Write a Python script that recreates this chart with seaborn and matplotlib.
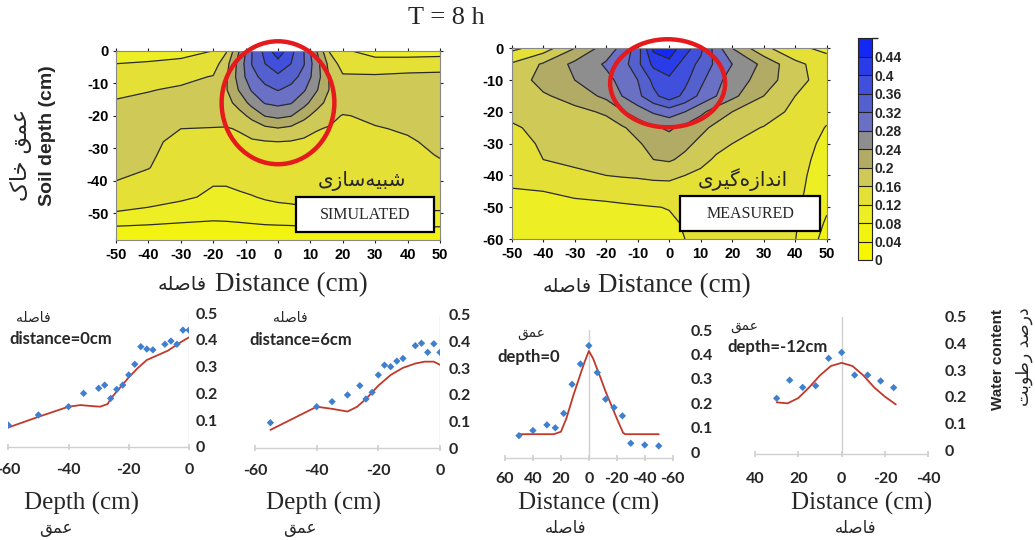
import numpy as np
import matplotlib
matplotlib.use("Agg")
import matplotlib.pyplot as plt
import seaborn as sns
from matplotlib.colors import ListedColormap, BoundaryNorm
from matplotlib.patches import Ellipse, Rectangle

# ---------------- data ----------------
title_text = "T = 8 h"

# simulated field grid
sim_x = [-50, -40, -30, -20, -16, -12, -8, -4, 0, 4, 8, 12, 16, 20, 30, 40, 50]
sim_depth = [0, -4, -8, -12, -16, -20, -24, -28, -32, -36, -40, -45, -50, -55, -60]
simulated_wc = [
    [0.100, 0.100, 0.105, 0.120, 0.155, 0.240, 0.320, 0.373, 0.430, 0.373, 0.320, 0.240, 0.155, 0.125, 0.105, 0.100, 0.100],
    [0.120, 0.124, 0.130, 0.140, 0.185, 0.255, 0.322, 0.360, 0.383, 0.360, 0.322, 0.255, 0.185, 0.142, 0.135, 0.140, 0.145],
    [0.137, 0.142, 0.150, 0.162, 0.195, 0.257, 0.308, 0.334, 0.353, 0.334, 0.308, 0.257, 0.195, 0.165, 0.165, 0.168, 0.168],
    [0.152, 0.158, 0.165, 0.177, 0.197, 0.243, 0.285, 0.310, 0.322, 0.310, 0.285, 0.243, 0.197, 0.178, 0.174, 0.176, 0.175],
    [0.163, 0.169, 0.174, 0.180, 0.185, 0.216, 0.254, 0.283, 0.290, 0.283, 0.254, 0.216, 0.185, 0.180, 0.172, 0.174, 0.175],
    [0.170, 0.174, 0.176, 0.178, 0.178, 0.185, 0.212, 0.242, 0.250, 0.242, 0.212, 0.185, 0.170, 0.158, 0.166, 0.170, 0.172],
    [0.170, 0.169, 0.160, 0.158, 0.157, 0.163, 0.175, 0.190, 0.197, 0.190, 0.175, 0.162, 0.157, 0.152, 0.158, 0.163, 0.169],
    [0.169, 0.166, 0.153, 0.150, 0.149, 0.151, 0.156, 0.158, 0.160, 0.158, 0.154, 0.151, 0.149, 0.147, 0.150, 0.157, 0.166],
    [0.167, 0.164, 0.149, 0.147, 0.147, 0.148, 0.149, 0.150, 0.152, 0.150, 0.149, 0.148, 0.147, 0.146, 0.147, 0.151, 0.162],
    [0.164, 0.161, 0.144, 0.141, 0.141, 0.142, 0.143, 0.144, 0.145, 0.144, 0.143, 0.142, 0.141, 0.142, 0.143, 0.146, 0.155],
    [0.160, 0.150, 0.132, 0.122, 0.122, 0.125, 0.128, 0.131, 0.134, 0.135, 0.137, 0.138, 0.138, 0.138, 0.139, 0.141, 0.144],
    [0.136, 0.130, 0.124, 0.116, 0.116, 0.117, 0.119, 0.122, 0.124, 0.125, 0.126, 0.127, 0.127, 0.127, 0.128, 0.129, 0.130],
    [0.118, 0.114, 0.108, 0.104, 0.104, 0.105, 0.107, 0.110, 0.112, 0.113, 0.115, 0.116, 0.117, 0.118, 0.118, 0.118, 0.118],
    [0.070, 0.066, 0.060, 0.052, 0.055, 0.060, 0.064, 0.067, 0.068, 0.069, 0.071, 0.072, 0.072, 0.072, 0.072, 0.072, 0.072],
    [0.050, 0.048, 0.046, 0.044, 0.045, 0.046, 0.047, 0.048, 0.050, 0.050, 0.050, 0.050, 0.050, 0.050, 0.050, 0.050, 0.050],
]

# measured field grid
meas_x = [-50, -40, -30, -20, -15, -10, -5, 0, 5, 10, 15, 20, 30, 40, 50]
meas_depth = [0, -5, -10, -15, -20, -25, -30, -35, -40, -45, -50, -55, -60]
measured_wc = [
    [0.110, 0.140, 0.200, 0.260, 0.290, 0.340, 0.450, 0.460, 0.420, 0.370, 0.300, 0.240, 0.170, 0.130, 0.110],
    [0.165, 0.205, 0.250, 0.285, 0.300, 0.350, 0.410, 0.430, 0.380, 0.350, 0.310, 0.280, 0.230, 0.170, 0.140],
    [0.175, 0.215, 0.240, 0.270, 0.290, 0.320, 0.370, 0.390, 0.370, 0.330, 0.290, 0.265, 0.220, 0.175, 0.140],
    [0.175, 0.195, 0.215, 0.250, 0.280, 0.310, 0.350, 0.380, 0.350, 0.310, 0.280, 0.250, 0.200, 0.160, 0.135],
    [0.170, 0.178, 0.190, 0.205, 0.235, 0.260, 0.285, 0.300, 0.280, 0.250, 0.220, 0.200, 0.180, 0.150, 0.130],
    [0.155, 0.170, 0.175, 0.185, 0.195, 0.215, 0.235, 0.245, 0.230, 0.210, 0.190, 0.175, 0.158, 0.145, 0.118],
    [0.145, 0.165, 0.170, 0.175, 0.180, 0.195, 0.215, 0.225, 0.210, 0.190, 0.170, 0.160, 0.150, 0.140, 0.110],
    [0.135, 0.160, 0.165, 0.170, 0.175, 0.180, 0.200, 0.205, 0.190, 0.170, 0.155, 0.150, 0.145, 0.135, 0.105],
    [0.128, 0.140, 0.155, 0.160, 0.163, 0.165, 0.168, 0.168, 0.160, 0.152, 0.148, 0.145, 0.140, 0.132, 0.100],
    [0.118, 0.120, 0.128, 0.132, 0.135, 0.138, 0.142, 0.145, 0.145, 0.142, 0.140, 0.138, 0.135, 0.130, 0.095],
    [0.105, 0.105, 0.110, 0.113, 0.115, 0.117, 0.119, 0.121, 0.125, 0.128, 0.130, 0.130, 0.130, 0.127, 0.085],
    [0.095, 0.095, 0.098, 0.102, 0.105, 0.108, 0.112, 0.116, 0.122, 0.126, 0.128, 0.128, 0.128, 0.124, 0.075],
    [0.085, 0.085, 0.088, 0.092, 0.095, 0.100, 0.105, 0.112, 0.120, 0.125, 0.127, 0.127, 0.126, 0.121, 0.065],
]

levels = [0, 0.04, 0.08, 0.12, 0.16, 0.20, 0.24, 0.28, 0.32, 0.36, 0.40, 0.44, 0.48]
cbar_ticks = [0, 0.04, 0.08, 0.12, 0.16, 0.20, 0.24, 0.28, 0.32, 0.36, 0.40, 0.44]
cbar_labels = ["0", "0.04", "0.08", "0.12", "0.16", "0.2", "0.24", "0.28", "0.32", "0.36", "0.4", "0.44"]
band_colors = ["#f6f600", "#f3f312", "#eeee24", "#e4e036", "#cfc957", "#b2ab66",
               "#8e8e8e", "#6a70c4", "#5560cf", "#4050dc", "#2a3ce8", "#1428f5"]

contour_xticks = [-50, -40, -30, -20, -10, 0, 10, 20, 30, 40, 50]
sim_yticks = [0, -10, -20, -30, -40, -50]
meas_yticks = [0, -10, -20, -30, -40, -50, -60]

# bottom panel 1 : distance = 0 cm
p1_meas_depth = [-60, -50, -40, -35, -30, -28, -26, -24, -22, -20, -18, -16, -14, -12, -8, -6, -4, -2, 0]
p1_meas_wc = [0.081, 0.119, 0.150, 0.200, 0.219, 0.231, 0.181, 0.215, 0.231, 0.269, 0.309, 0.375,
              0.366, 0.363, 0.384, 0.396, 0.384, 0.437, 0.437]
p1_sim_depth = [-60, -50, -40, -36, -32, -29.5, -27, -26, -23, -20, -17, -14, -10, -7, -3, 0]
p1_sim_wc = [0.072, 0.112, 0.150, 0.156, 0.152, 0.150, 0.160, 0.180, 0.220, 0.260, 0.295, 0.325,
             0.345, 0.360, 0.390, 0.410]

# bottom panel 2 : distance = 6 cm
p2_meas_depth = [-55, -40, -35, -30, -26, -24, -22, -20, -18, -16, -14, -12, -8, -6, -4, -2, 0]
p2_meas_wc = [0.096, 0.156, 0.175, 0.200, 0.235, 0.185, 0.210, 0.275, 0.312, 0.306, 0.327, 0.337,
              0.385, 0.394, 0.360, 0.392, 0.360]
p2_sim_depth = [-55, -40, -35, -30, -27, -24, -20, -16, -12, -8, -5, -2, 0]
p2_sim_wc = [0.069, 0.156, 0.148, 0.138, 0.155, 0.185, 0.235, 0.275, 0.302, 0.318, 0.325, 0.325, 0.313]

# bottom panel 3 : depth = 0
p3_meas_dist = [50, 40, 30, 24, 18, 12, 6, 0, -6, -12, -18, -24, -30, -40, -50]
p3_meas_wc = [0.068, 0.089, 0.112, 0.100, 0.159, 0.278, 0.361, 0.436, 0.326, 0.217, 0.183, 0.149,
              0.037, 0.030, 0.026]
p3_sim_dist = [50, 25, 20, 16, 11, 6, 3, 0, -3, -8, -12, -17, -21, -24.5, -26, -50]
p3_sim_wc = [0.074, 0.074, 0.084, 0.140, 0.234, 0.320, 0.370, 0.414, 0.384, 0.310, 0.248, 0.180,
             0.125, 0.080, 0.074, 0.074]

# bottom panel 4 : depth = -12 cm
p4_meas_dist = [30, 24, 18, 12, 6, 0, -6, -12, -18, -24]
p4_meas_wc = [0.194, 0.262, 0.235, 0.241, 0.344, 0.366, 0.281, 0.281, 0.259, 0.234]
p4_sim_dist = [30, 25, 20, 15, 10, 5, 0, -5, -10, -15, -20, -25]
p4_sim_wc = [0.179, 0.175, 0.195, 0.235, 0.280, 0.315, 0.327, 0.315, 0.280, 0.235, 0.200, 0.171]

wc_ticks = [0, 0.1, 0.2, 0.3, 0.4, 0.5]
wc_labels = ["0", "0.1", "0.2", "0.3", "0.4", "0.5"]

# ---------------- Persian shaping (visual order, presentation forms) ----------------
FORMS = {
    "\u0627": ("\uFE8D", "\uFE8E", None, None),
    "\u0628": ("\uFE8F", "\uFE90", "\uFE91", "\uFE92"),
    "\u062A": ("\uFE95", "\uFE96", "\uFE97", "\uFE98"),
    "\u062E": ("\uFEA5", "\uFEA6", "\uFEA7", "\uFEA8"),
    "\u062F": ("\uFEA9", "\uFEAA", None, None),
    "\u0631": ("\uFEAD", "\uFEAE", None, None),
    "\u0632": ("\uFEAF", "\uFEB0", None, None),
    "\u0633": ("\uFEB1", "\uFEB2", "\uFEB3", "\uFEB4"),
    "\u0634": ("\uFEB5", "\uFEB6", "\uFEB7", "\uFEB8"),
    "\u0635": ("\uFEB9", "\uFEBA", "\uFEBB", "\uFEBC"),
    "\u0637": ("\uFEC1", "\uFEC2", "\uFEC3", "\uFEC4"),
    "\u0639": ("\uFEC9", "\uFECA", "\uFECB", "\uFECC"),
    "\u0641": ("\uFED1", "\uFED2", "\uFED3", "\uFED4"),
    "\u0642": ("\uFED5", "\uFED6", "\uFED7", "\uFED8"),
    "\u0644": ("\uFEDD", "\uFEDE", "\uFEDF", "\uFEE0"),
    "\u0645": ("\uFEE1", "\uFEE2", "\uFEE3", "\uFEE4"),
    "\u0646": ("\uFEE5", "\uFEE6", "\uFEE7", "\uFEE8"),
    "\u0647": ("\uFEE9", "\uFEEA", "\uFEEB", "\uFEEC"),
    "\u0648": ("\uFEED", "\uFEEE", None, None),
    "\u06A9": ("\uFB8E", "\uFB8F", "\uFB90", "\uFB91"),
    "\u06AF": ("\uFB92", "\uFB93", "\uFB94", "\uFB95"),
    "\u06CC": ("\uFBFC", "\uFBFD", "\uFBFE", "\uFBFF"),
}


def fa(s):
    out = []
    n = len(s)
    for i, c in enumerate(s):
        if c not in FORMS:
            if c == "\u200c":
                continue
            out.append(c)
            continue
        iso, fin, ini, med = FORMS[c]
        prev = s[i - 1] if i > 0 else None
        nxt = s[i + 1] if i < n - 1 else None
        jp = prev in FORMS and FORMS[prev][2] is not None
        jn = ini is not None and nxt in FORMS
        if jp and jn:
            g = med
        elif jp:
            g = fin
        elif jn:
            g = ini
        else:
            g = iso
        out.append(g)
    return "".join(reversed(out))


FA_DIST = "\u0641\u0627\u0635\u0644\u0647"            # فاصله
FA_DEPTH = "\u0639\u0645\u0642"                          # عمق
FA_SOIL_DEPTH = "\u0639\u0645\u0642 \u062E\u0627\u06A9"  # عمق خاک
FA_SIM = "\u0634\u0628\u06CC\u0647\u200C\u0633\u0627\u0632\u06CC"          # شبیه‌سازی
FA_MEAS = "\u0627\u0646\u062F\u0627\u0632\u0647\u200C\u06AF\u06CC\u0631\u06CC"  # اندازه‌گیری
FA_WC = "\u062F\u0631\u0635\u062F \u0631\u0637\u0648\u0628\u062A"        # درصد رطوبت

# ---------------- figure ----------------
sns.set_theme(style="white")
plt.rcParams["font.family"] = ["Liberation Sans", "DejaVu Sans"]
plt.rcParams["axes.unicode_minus"] = False

W, H = 1035, 540
fig = plt.figure(figsize=(W / 100, H / 100), dpi=100)
fig.patch.set_facecolor("white")


def add_ax(l, r, t, b):
    return fig.add_axes([l / W, 1 - b / H, (r - l) / W, (b - t) / H])


cmap = ListedColormap(band_colors)
norm = BoundaryNorm(levels, cmap.N)
FA_FONT = ["DejaVu Sans"]
SERIF = ["Liberation Serif", "DejaVu Serif"]
CAL = ["Lato", "DejaVu Sans"]


def contour_panel(ax, xs, ds, Z, ylow, yticks, label, fa_label, box_x0, ell):
    GX, GD = np.meshgrid(np.array(xs), np.array(ds))
    Z = np.array(Z)
    ax.contourf(GX, GD, Z, levels=levels, cmap=cmap, norm=norm)
    ax.contour(GX, GD, Z, levels=levels[1:-1], colors="#2b2b2b", linewidths=0.9)
    ax.set_xlim(-50, 50)
    ax.set_ylim(ylow, 0)
    ax.set_xticks(contour_xticks)
    ax.set_xticklabels([str(v) for v in contour_xticks])
    ax.set_yticks(yticks)
    ax.set_yticklabels([str(v) for v in yticks])
    ax.tick_params(axis="both", which="both", direction="inout", length=5, width=0.8,
                   top=True, right=True, bottom=True, left=True, labelsize=10.5, pad=3, colors="#222222")
    for t in ax.get_xticklabels() + ax.get_yticklabels():
        t.set_fontweight("bold")
        t.set_color("black")
    for s in ax.spines.values():
        s.set_visible(True)
        s.set_color("#888888")
        s.set_linewidth(0.8)
    ax.grid(False)
    # label box
    ax.add_patch(Rectangle((box_x0, 0.04), 0.98 - box_x0, 0.185, transform=ax.transAxes,
                           facecolor="white", edgecolor="black", linewidth=1.6, zorder=5))
    ax.text((box_x0 + 0.98) / 2, 0.13, label, transform=ax.transAxes, ha="center", va="center",
            fontsize=11.5, family=SERIF, zorder=6)
    ax.text(fa_label[1], fa_label[2], fa(fa_label[0]), transform=ax.transAxes, ha="center",
            va="center", fontsize=14.5, family=FA_FONT, zorder=6)
    ax.add_patch(Ellipse((ell[0], ell[1]), ell[2], ell[3], fill=False, edgecolor="#e41a1c",
                         linewidth=3.2, clip_on=False, zorder=7))


ax_sim = add_ax(116, 440, 50.7, 240)
contour_panel(ax_sim, sim_x, sim_depth, simulated_wc, -58.2, sim_yticks, "SIMULATED",
              (FA_SIM, 0.76, 0.31), 0.555, (0, -16, 34.8, 37.8))

ax_meas = add_ax(511.7, 826.7, 48.3, 239)
contour_panel(ax_meas, meas_x, meas_depth, measured_wc, -60, meas_yticks, "MEASURED",
              (FA_MEAS, 0.735, 0.31), 0.535, (-0.5, -11, 36.5, 27.7))

# colorbar
cax = add_ax(858, 871.7, 38.3, 260)
sm = matplotlib.cm.ScalarMappable(norm=norm, cmap=cmap)
cb = fig.colorbar(sm, cax=cax, boundaries=levels, ticks=cbar_ticks, drawedges=True)
cb.ax.set_yticklabels(cbar_labels)
cb.outline.set_edgecolor("#222222")
cb.outline.set_linewidth(0.8)
cb.dividers.set_color("#222222")
cb.dividers.set_linewidth(0.8)
cb.ax.tick_params(length=0, pad=2, labelsize=10)
for t in cb.ax.get_yticklabels():
    t.set_fontweight("bold")

# title + top labels
fig.text(446 / W, 1 - 18 / H, title_text, ha="center", va="center", fontsize=19, family=SERIF)
fig.text(47 / W, 1 - 136 / H, "Soil depth (cm)", rotation=90, ha="center", va="center",
         fontsize=14, fontweight="bold")
fig.text(21 / W, 1 - 155 / H, fa(FA_SOIL_DEPTH), rotation=90, ha="center", va="center",
         fontsize=16, family=FA_FONT)
for (fa_x, en_x, yy) in [(207, 215, 285), (592, 598, 286)]:
    fig.text(fa_x / W, 1 - yy / H, fa(FA_DIST), ha="right", va="center", fontsize=14, family=FA_FONT)
    fig.text(en_x / W, 1 - yy / H, "Distance (cm)", ha="left", va="center", fontsize=19.5, family=SERIF)

# ---------------- bottom panels ----------------
LINE_C = "#c0392b"
PT_C = "#3f7fcf"


def line_panel(box, xlim, ylim, xticks, xs, ys, xm, ym, ypad, xpad, note_fa, note_en, note_pos):
    ax = add_ax(*box)
    sns.lineplot(x=xs, y=ys, ax=ax, color=LINE_C, linewidth=1.3, estimator=None, sort=False)
    sns.scatterplot(x=xm, y=ym, ax=ax, color=PT_C, marker="D", s=14, edgecolor="none", zorder=4)
    ax.set_xlim(*xlim)
    ax.set_ylim(*ylim)
    ax.axvline(0, color="#d0d0d0", linewidth=1.0, zorder=0)
    ax.set_xticks(xticks)
    ax.set_xticklabels([str(v) for v in xticks])
    ax.set_yticks(wc_ticks)
    ax.set_yticklabels(wc_labels)
    ax.yaxis.tick_right()
    ax.tick_params(axis="y", length=0, pad=ypad, labelsize=11.5)
    ax.tick_params(axis="x", direction="inout", length=5, color="#d0d0d0", pad=xpad, labelsize=11.5,
                   bottom=True)
    for t in ax.get_xticklabels() + ax.get_yticklabels():
        t.set_fontweight("bold")
        t.set_family(CAL)
    for k in ["top", "right", "left"]:
        ax.spines[k].set_visible(False)
    ax.spines["bottom"].set_color("#d0d0d0")
    ax.spines["bottom"].set_linewidth(1.0)
    ax.set_xlabel("")
    ax.set_ylabel("")
    ax.grid(False)
    ax.patch.set_alpha(0)
    fig.text(note_pos[0] / W, 1 - note_pos[1] / H, fa(note_fa), ha="center", va="center",
             fontsize=10, family=FA_FONT)
    fig.text(note_pos[2] / W, 1 - note_pos[3] / H, note_en, ha="left", va="center",
             fontsize=12, fontweight="bold", family=CAL)
    return ax


line_panel((8.3, 189, 313.3, 446.7), (-60, 0), (0, 0.5), [-60, -40, -20, 0],
           p1_sim_depth, p1_sim_wc, p1_meas_depth, p1_meas_wc, 5, 9,
           FA_DIST, "distance=0cm", (33, 318, 9, 339))
line_panel((255, 440, 315, 448.3), (-60, 0), (0, 0.5), [-60, -40, -20, 0],
           p2_sim_depth, p2_sim_wc, p2_meas_depth, p2_meas_wc, 6, 9,
           FA_DIST, "distance=6cm", (290, 318, 249, 340))
line_panel((505, 672.7, 330, 458.4), (60, -60), (-0.025, 0.5), [60, 40, 20, 0, -20, -40, -60],
           p3_sim_dist, p3_sim_wc, p3_meas_dist, p3_meas_wc, 13, 7,
           FA_DEPTH, "depth=0", (531, 333, 497, 357))
line_panel((755, 928.3, 316.7, 454.3), (40, -40), (-0.016, 0.5), [40, 20, 0, -20, -40],
           p4_sim_dist, p4_sim_wc, p4_meas_dist, p4_meas_wc, 12, 10,
           FA_DEPTH, "depth=-12cm", (744, 326, 727, 347))

# bottom axis labels
for (cx, txt, fa_txt, fcx) in [(82, "Depth (cm)", FA_DEPTH, 56), (324, "Depth (cm)", FA_DEPTH, 300),
                               (589, "Distance (cm)", FA_DIST, 566), (862, "Distance (cm)", FA_DIST, 856)]:
    fig.text(cx / W, 1 - 503 / H, txt, ha="center", va="center", fontsize=18, family=SERIF)
    fig.text(fcx / W, 1 - 528 / H, fa(fa_txt), ha="center", va="center", fontsize=12, family=FA_FONT)

fig.text(998 / W, 1 - 360 / H, "Water content", rotation=90, ha="center", va="center",
         fontsize=11, fontweight="bold")
fig.text(1024 / W, 1 - 357 / H, fa(FA_WC), rotation=90, ha="center", va="center",
         fontsize=12.5, family=FA_FONT)

fig.savefig("out.png", dpi=100, facecolor="white")
